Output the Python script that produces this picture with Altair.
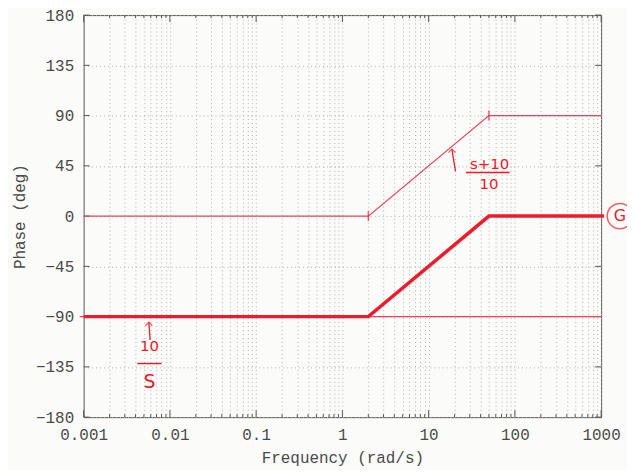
import altair as alt
import pandas as pd

# ---- data ----
decades = [0.001, 0.01, 0.1, 1, 10, 100, 1000]
minor_x = [m * d for d in decades[:-1] for m in range(2, 10)]
y_ticks = [-180, -135, -90, -45, 0, 45, 90, 135, 180]

# composite (thick) asymptote G(s)
g_freq = [0.001, 2, 50, 1080]
g_phase = [-90, -90, 0, 0]
# (s+10)/10 asymptote
z_freq = [0.001, 2, 50, 1000]
z_phase = [0, 0, 90, 90]
# 10/s
p_freq = [0.0009, 1000]
p_phase = [-90, -90]
# hand-drawn break marks
brk_freq = [2, 50]
brk_phase = [0, 90]

# hand-written notes
note_freq = [0.0058, 0.0058, 51, 50, 1650]
note_phase = [-116, -149, 47, 29, 0]
note_text = ["10", "S", "s+10", "10", "G"]
note_size = [15, 19, 15, 15, 16]
bar_f1 = [0.0042, 27]
bar_f2 = [0.0080, 87]
bar_p = [-132, 39]
arrow_f1 = [0.0059, 20.5]
arrow_p1 = [-111, 40]
arrow_f2 = [0.0057, 18.6]
arrow_p2 = [-95, 60]

W, H = 520, 404
RED_THIN = "#e6445c"
RED = "#ec1c2c"
MONO = "Liberation Mono"
GRID = "#b0b0b0"

xs = alt.Scale(type="log", domain=[0.001, 1000], nice=False)
ys = alt.Scale(domain=[-180, 180], nice=False)

xaxis = alt.Axis(
    values=sorted(decades + minor_x),
    labelExpr="abs(log(datum.value)/LN10 - round(log(datum.value)/LN10)) < 1e-6 ? format(datum.value, '~g') : ''",
    title="Frequency (rad/s)",
    grid=True, gridDash=[1, 3], gridColor=GRID, gridWidth=1,
    ticks=False, tickSize=0, domain=False,
    labelFont=MONO, labelFontSize=16, labelColor="#4a4a4a",
    labelOverlap=False, labelFlush=False, labelBound=False, labelPadding=9,
    titleFont=MONO, titleFontSize=16, titleFontWeight="normal", titleColor="#4a4a4a",
    titlePadding=8,
)
yaxis = alt.Axis(
    values=y_ticks,
    title="Phase (deg)",
    grid=True, gridDash=[1, 3], gridColor=GRID, gridWidth=1,
    ticks=False, tickSize=0, domain=False,
    labelFont=MONO, labelFontSize=16, labelColor="#4a4a4a", labelPadding=10,
    titleFont=MONO, titleFontSize=16, titleFontWeight="normal", titleColor="#4a4a4a",
    titlePadding=8,
)

X = alt.X("f:Q", scale=xs, axis=xaxis)
Y = alt.Y("p:Q", scale=ys, axis=yaxis)
X2 = alt.X2("f2:Q")

df_g = pd.DataFrame({"f": g_freq, "p": g_phase})
df_z = pd.DataFrame({"f": z_freq, "p": z_phase})
df_p = pd.DataFrame({"f": p_freq, "p": p_phase})
df_brk = pd.DataFrame({"f": brk_freq, "p": brk_phase})
df_major = pd.DataFrame({"f": decades})
df_minor = pd.DataFrame({"f": minor_x})
df_yt = pd.DataFrame({"p": y_ticks})
df_note = pd.DataFrame({"f": note_freq, "p": note_phase, "t": note_text, "s": note_size})
df_bar = pd.DataFrame({"f": bar_f1, "f2": bar_f2, "p": bar_p})
df_arrow = pd.DataFrame({"f": arrow_f1 + arrow_f2, "p": arrow_p1 + arrow_p2,
                         "g": [0, 0, 1, 1], "k": ["a", "b", "a", "b"]})
df_head = pd.DataFrame({"f": arrow_f2, "p": arrow_p2})
df_circ = pd.DataFrame({"f": [note_freq[-1]], "p": [note_phase[-1]]})

tick_col = "#555"
layers = [
    alt.Chart(df_major).mark_rule(color=tick_col).encode(x=X, y=alt.value(0), y2=alt.value(7)),
    alt.Chart(df_major).mark_rule(color=tick_col).encode(x=X, y=alt.value(H), y2=alt.value(H - 7)),
    alt.Chart(df_minor).mark_rule(color=tick_col).encode(x=X, y=alt.value(0), y2=alt.value(3)),
    alt.Chart(df_minor).mark_rule(color=tick_col).encode(x=X, y=alt.value(H), y2=alt.value(H - 3)),
    alt.Chart(df_yt).mark_rule(color=tick_col).encode(y=Y, x=alt.value(0), x2=alt.value(6)),
    alt.Chart(df_yt).mark_rule(color=tick_col).encode(y=Y, x=alt.value(W), x2=alt.value(W - 6)),
    alt.Chart(df_p).mark_line(color=RED_THIN, strokeWidth=1.2, clip=False).encode(x=X, y=Y),
    alt.Chart(df_z).mark_line(color=RED_THIN, strokeWidth=1.2).encode(x=X, y=Y),
    alt.Chart(df_g).mark_line(color=RED, strokeWidth=3.5, clip=False).encode(x=X, y=Y),
    alt.Chart(df_brk).mark_tick(color=RED, thickness=1.5, size=10, orient="vertical").encode(x=X, y=Y),
    alt.Chart(df_note).mark_text(color=RED, font="DejaVu Sans", clip=False).encode(
        x=X, y=Y, text="t:N", size=alt.Size("s:Q", scale=None, legend=None)),
    alt.Chart(df_bar).mark_rule(color=RED, strokeWidth=1.5).encode(x=X, x2=X2, y=Y),
    alt.Chart(df_arrow).mark_line(color=RED, strokeWidth=1.3).encode(x=X, y=Y, detail="k:N", order="g:Q"),
    alt.Chart(df_head).mark_point(color=RED, shape="M-1,1L0,0L1,1", size=50, filled=False, strokeWidth=1.3).encode(x=X, y=Y),
    alt.Chart(df_circ).mark_point(color=RED, shape="circle", size=650, filled=False, strokeWidth=1.5, clip=False).encode(x=X, y=Y),
]

chart = alt.layer(*layers).properties(
    width=W, height=H,
    autosize=alt.AutoSizeParams(type="none"),
    padding={"left": 76, "top": 6, "right": 26, "bottom": 52},
    background="#fbfbf9",
).configure_view(stroke="#555", strokeWidth=1)

chart.save("out.html", embed_options={"renderer": "svg", "actions": False})
